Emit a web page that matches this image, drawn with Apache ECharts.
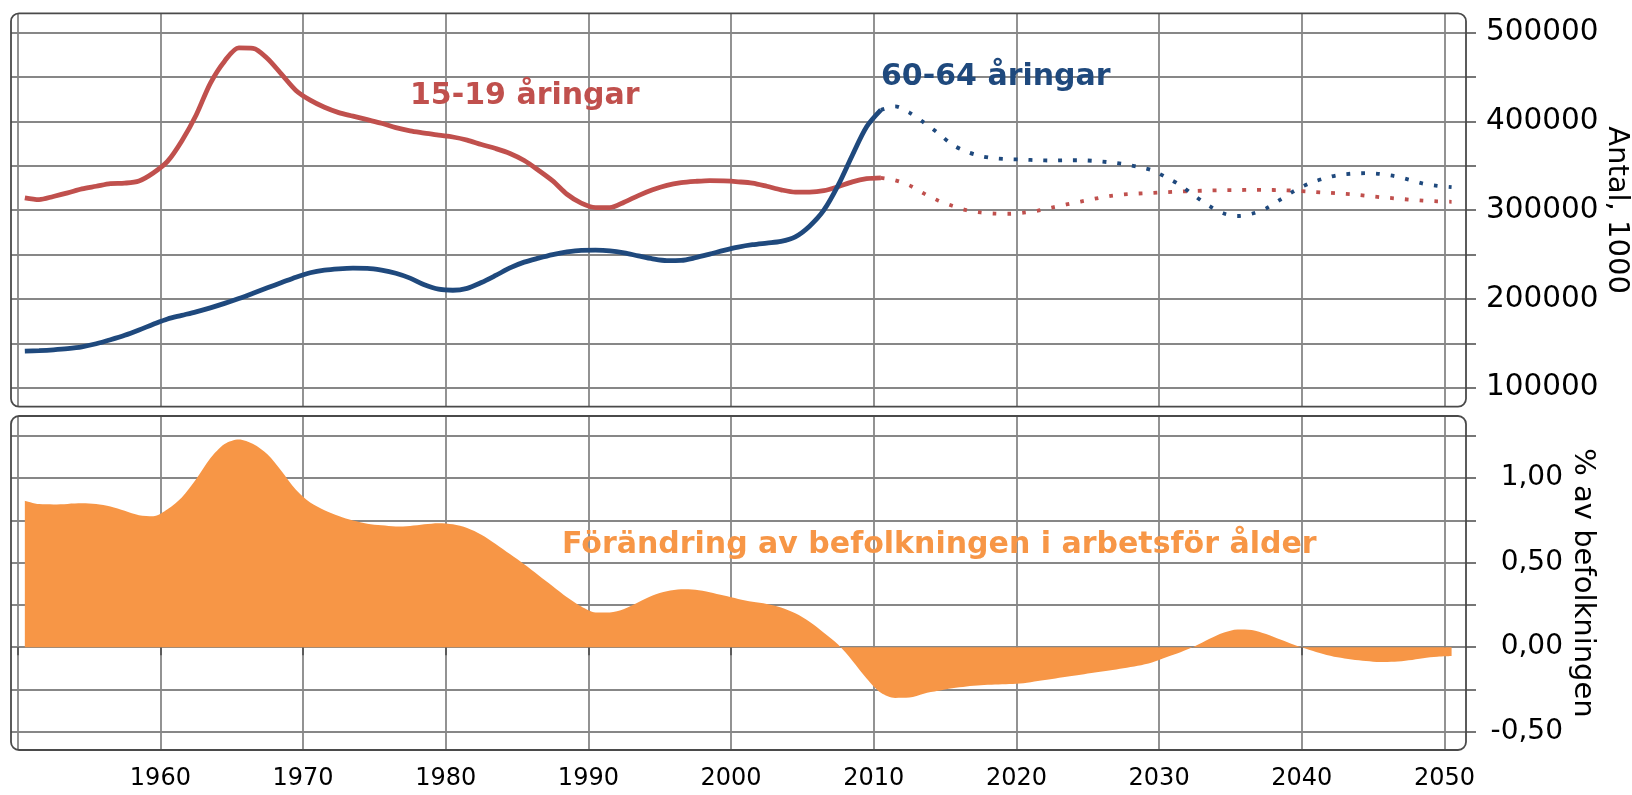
<!DOCTYPE html>
<html>
<head>
<meta charset="utf-8">
<title>15-19 och 60-64 åringar</title>
<script src="https://cdn.jsdelivr.net/npm/echarts@6/dist/echarts.min.js"></script>
<style>
html, body { margin: 0; padding: 0; background: #fff; }
#chart { width: 1632px; height: 795px; }
</style>
</head>
<body>
<div id="chart"></div>
<script>
var years = [
    1950, 1951, 1952, 1953, 1954, 1955, 1956, 1957, 1958, 1959,
    1960, 1961, 1962, 1963, 1964, 1965, 1966, 1967, 1968, 1969,
    1970, 1971, 1972, 1973, 1974, 1975, 1976, 1977, 1978, 1979,
    1980, 1981, 1982, 1983, 1984, 1985, 1986, 1987, 1988, 1989,
    1990, 1991, 1992, 1993, 1994, 1995, 1996, 1997, 1998, 1999,
    2000, 2001, 2002, 2003, 2004, 2005, 2006, 2007, 2008, 2009,
    2010, 2011, 2012, 2013, 2014, 2015, 2016, 2017, 2018, 2019,
    2020, 2021, 2022, 2023, 2024, 2025, 2026, 2027, 2028, 2029,
    2030, 2031, 2032, 2033, 2034, 2035, 2036, 2037, 2038, 2039,
    2040, 2041, 2042, 2043, 2044, 2045, 2046, 2047, 2048, 2049,
    2050
];

// 15-19 åringar, antal
var age15to19 = [
    314000, 312000, 315500, 319500, 324000, 327000, 330000, 330500, 333000, 342000,
    355000, 378000, 407000, 443000, 468000, 483000, 482500, 471000, 453000, 435000,
    424000, 416000, 410000, 406000, 402000, 398000, 393000, 389500, 387000, 384500,
    382500, 379000, 374000, 369500, 364000, 356000, 345000, 333000, 318000, 308000,
    303000, 303000, 309000, 316500, 323000, 328000, 331000, 332500, 333400, 333000,
    332000, 330500, 327000, 323000, 320500, 320500, 322000, 326500, 332000, 335500,
    336500, 333700, 328000, 319000, 311000, 305000, 300000, 297500, 296200, 296000,
    297200, 299500, 303000, 306500, 309800, 313000, 316000, 317800, 318800, 319500,
    320300, 321000, 321700, 322200, 322500, 322700, 322900, 322900, 322600, 322000,
    321000, 320000, 319000, 318000, 316300, 314700, 313400, 312000, 310800, 310000,
    309500
];

// 60-64 åringar, antal
var age60to64 = [
    141200, 141800, 142700, 144000, 146000, 149500, 154000, 159000, 165000, 171500,
    177500, 181500, 185500, 190000, 195000, 200500, 206500, 212500, 218500, 224500,
    229500, 232500, 234000, 234700, 234500, 232500, 229000, 223500, 216000, 211000,
    209800, 212000, 218500, 226500, 235000, 241500, 246000, 250000, 253000, 254800,
    255000, 254300, 252000, 248500, 245200, 243200, 243500, 246500, 250500, 254800,
    258500, 261200, 263000, 264800, 270000, 282000, 300000, 328000, 362000, 394000,
    413000, 417000, 410000, 399000, 387000, 374000, 366000, 361000, 358500, 357500,
    357000, 356300, 356000, 356300, 356300, 355500, 354000, 352000, 349000, 345000,
    337000, 328000, 316000, 305000, 296500, 293500, 296000, 302000, 312000, 322000,
    330000, 335500, 339500, 341200, 341700, 340800, 338500, 334500, 330000, 327500,
    326000
];

// Förändring av befolkningen i arbetsför ålder, % av befolkningen
var workingAgeChange = [
    0.866, 0.846, 0.844, 0.847, 0.850, 0.846, 0.832, 0.806, 0.780, 0.774,
    0.815, 0.884, 0.992, 1.116, 1.201, 1.228, 1.201, 1.140, 1.040, 0.930,
    0.855, 0.810, 0.775, 0.748, 0.730, 0.720, 0.713, 0.716, 0.726, 0.733,
    0.726, 0.705, 0.665, 0.610, 0.550, 0.490, 0.425, 0.360, 0.295, 0.240,
    0.205, 0.205, 0.225, 0.265, 0.305, 0.330, 0.342, 0.340, 0.325, 0.305,
    0.285, 0.268, 0.255, 0.235, 0.200, 0.150, 0.085, 0.015, -0.080, -0.185,
    -0.270, -0.300, -0.298, -0.275, -0.258, -0.243, -0.232, -0.225, -0.221, -0.218,
    -0.213, -0.200, -0.188, -0.175, -0.163, -0.150, -0.138, -0.125, -0.110, -0.090,
    -0.060, -0.030, 0.005, 0.048, 0.085, 0.105, 0.102, 0.078, 0.045, 0.012,
    -0.015, -0.040, -0.060, -0.073, -0.082, -0.088, -0.087, -0.078, -0.065, -0.057,
    -0.053
];

var lastObservedYear = 2010;

var yearTicks = [1950, 1960, 1970, 1980, 1990, 2000, 2010, 2020, 2030, 2040, 2050];
var yearLabels = [1960, 1970, 1980, 1990, 2000, 2010, 2020, 2030, 2040, 2050];
var countTicks = [100000, 150000, 200000, 250000, 300000, 350000, 400000, 450000, 500000];
var countLabels = [100000, 200000, 300000, 400000, 500000];
var shareTicks = [-0.5, -0.25, 0, 0.25, 0.5, 0.75, 1, 1.25];
var shareLabels = [-0.5, 0, 0.5, 1];

var RED = '#C0504D';
var BLUE = '#1F497D';
var ORANGE = '#F79646';
var GRID_COLOR = '#878787';
var FRAME_COLOR = '#4a4a4a';
var FONT = '"DejaVu Sans", Verdana, sans-serif';

// values are yearly figures, drawn at mid-year
function points(values, from, to) {
    var out = [];
    for (var i = 0; i < years.length; i++) {
        if (years[i] >= from && years[i] <= to) {
            out.push([years[i] + 0.5, values[i]]);
        }
    }
    return out;
}

// plain integers, no thousands separator
function plain(v) {
    return String(Math.round(v));
}

var plotLeft = 11, plotRight = 166;
var topGrid = { top: 13.3, height: 393.4 };
var bottomGrid = { top: 416, height: 334 };
var chartWidth = 1632;

function xAxisFor(gridIndex, withLabels) {
    return {
        type: 'value',
        gridIndex: gridIndex,
        min: 1949.53,
        max: 2051.51,
        axisLine: { show: false },
        axisTick: {
            show: withLabels,
            customValues: yearTicks,
            length: 8,
            lineStyle: { color: FRAME_COLOR, width: 1.5 }
        },
        axisLabel: {
            show: withLabels,
            customValues: yearLabels,
            margin: 17,
            fontSize: 24,
            fontFamily: FONT,
            color: '#000',
            formatter: plain
        },
        splitLine: {
            show: true,
            customValues: yearTicks,
            lineStyle: { color: GRID_COLOR, width: 1.8 }
        }
    };
}

function lineSeries(name, color, values, from, to, dotted) {
    return {
        name: name,
        type: 'line',
        xAxisIndex: 0,
        yAxisIndex: 0,
        data: points(values, from, to),
        showSymbol: false,
        smooth: 0.3,
        silent: true,
        lineStyle: dotted
            ? { color: color, width: 3.8, type: [3.8, 11], cap: 'butt' }
            : { color: color, width: 4.8 }
    };
}

var option = {
    animation: false,
    backgroundColor: '#fff',
    grid: [
        { left: plotLeft, right: plotRight, top: topGrid.top, height: topGrid.height, outerBoundsMode: 'none', containLabel: false },
        { left: plotLeft, right: plotRight, top: bottomGrid.top, height: bottomGrid.height, outerBoundsMode: 'none', containLabel: false }
    ],
    xAxis: [xAxisFor(0, false), xAxisFor(1, true)],
    yAxis: [
        {
            type: 'value',
            gridIndex: 0,
            position: 'right',
            min: 78600,
            max: 521900,
            name: 'Antal, 1000',
            nameLocation: 'middle',
            nameRotate: -90,
            nameGap: 136,
            nameMoveOverlap: false,
            nameTextStyle: { fontSize: 29, fontFamily: FONT, color: '#000' },
            axisLine: { show: false },
            axisTick: {
                show: true,
                customValues: countTicks,
                length: 10,
                lineStyle: { color: FRAME_COLOR, width: 1.5 }
            },
            axisLabel: {
                customValues: countLabels,
                margin: 20,
                fontSize: 29.5,
                fontFamily: FONT,
                color: '#000',
                formatter: plain
            },
            splitLine: {
                show: true,
                customValues: countTicks,
                lineStyle: { color: GRID_COLOR, width: 1.8 }
            }
        },
        {
            type: 'value',
            gridIndex: 1,
            position: 'right',
            min: -0.608,
            max: 1.3665,
            name: '% av befolkningen',
            nameLocation: 'middle',
            nameRotate: -90,
            nameGap: 102,
            nameMoveOverlap: false,
            nameTextStyle: { fontSize: 29, fontFamily: FONT, color: '#000' },
            axisLine: { show: false },
            axisTick: {
                show: true,
                customValues: shareTicks,
                length: 10,
                lineStyle: { color: FRAME_COLOR, width: 1.5 }
            },
            axisLabel: {
                customValues: shareLabels,
                margin: 97,
                align: 'right',
                fontSize: 28,
                fontFamily: FONT,
                color: '#000',
                formatter: function (v) {
                    return v.toFixed(2).replace('.', ',');
                }
            },
            splitLine: {
                show: true,
                customValues: shareTicks,
                lineStyle: { color: GRID_COLOR, width: 1.8 }
            }
        }
    ],
    series: [
        {
            name: 'Förändring av befolkningen i arbetsför ålder',
            type: 'line',
            xAxisIndex: 1,
            yAxisIndex: 1,
            data: points(workingAgeChange, 1950, 2050),
            showSymbol: false,
            smooth: 0.3,
            silent: true,
            lineStyle: { width: 0, color: ORANGE },
            areaStyle: { color: ORANGE, opacity: 1 }
        },
        lineSeries('15-19 åringar', RED, age15to19, 1950, lastObservedYear, false),
        lineSeries('15-19 åringar prognos', RED, age15to19, lastObservedYear, 2050, true),
        lineSeries('60-64 åringar', BLUE, age60to64, 1950, lastObservedYear, false),
        lineSeries('60-64 åringar prognos', BLUE, age60to64, lastObservedYear, 2050, true)
    ],
    graphic: [
        {
            type: 'rect',
            z: 10,
            silent: true,
            shape: { x: plotLeft, y: topGrid.top, width: chartWidth - plotLeft - plotRight, height: topGrid.height, r: 8 },
            style: { fill: 'none', stroke: FRAME_COLOR, lineWidth: 1.8 }
        },
        {
            type: 'rect',
            z: 10,
            silent: true,
            shape: { x: plotLeft, y: bottomGrid.top, width: chartWidth - plotLeft - plotRight, height: bottomGrid.height, r: 8 },
            style: { fill: 'none', stroke: FRAME_COLOR, lineWidth: 1.8 }
        },
        {
            type: 'text',
            z: 11,
            x: 410,
            y: 96,
            style: { text: '15-19 åringar', fill: RED, font: 'bold 30px ' + FONT, verticalAlign: 'middle', align: 'left' }
        },
        {
            type: 'text',
            z: 11,
            x: 881,
            y: 77,
            style: { text: '60-64 åringar', fill: BLUE, font: 'bold 30px ' + FONT, verticalAlign: 'middle', align: 'left' }
        },
        {
            type: 'text',
            z: 11,
            x: 562,
            y: 545,
            style: { text: 'Förändring av befolkningen i arbetsför ålder', fill: ORANGE, font: 'bold 30px ' + FONT, verticalAlign: 'middle', align: 'left' }
        }
    ]
};

var chart = echarts.init(document.getElementById('chart'));
chart.setOption(option);
</script>
</body>
</html>
